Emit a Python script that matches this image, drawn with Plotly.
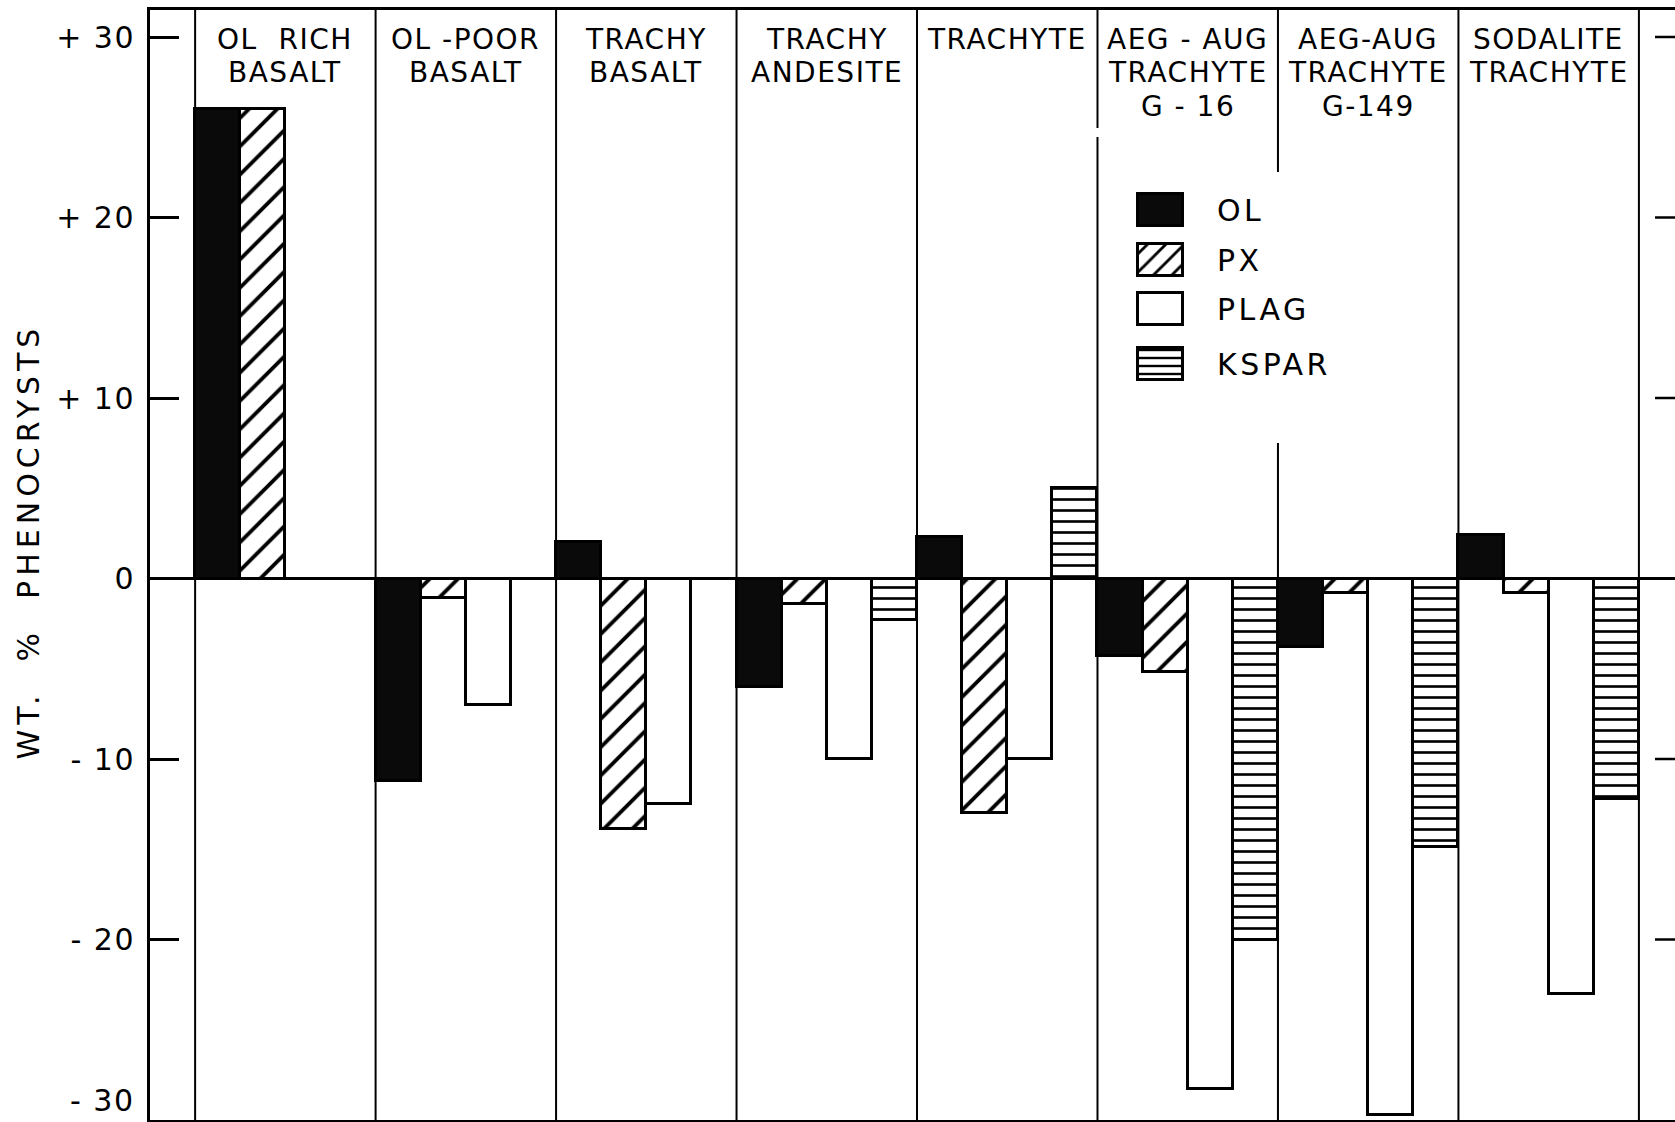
import plotly.graph_objects as go

# Rock types along the x axis and the header text drawn in each column
categories = [
    "OL RICH BASALT", "OL-POOR BASALT", "TRACHY BASALT", "TRACHY ANDESITE",
    "TRACHYTE", "AEG-AUG TRACHYTE G-16", "AEG-AUG TRACHYTE G-149", "SODALITE TRACHYTE",
]
header_lines = [
    ["OL  RICH", "BASALT"],
    ["OL -POOR", "BASALT"],
    ["TRACHY", "BASALT"],
    ["TRACHY", "ANDESITE"],
    ["TRACHYTE"],
    ["AEG - AUG", "TRACHYTE", "G - 16"],
    ["AEG-AUG", "TRACHYTE", "G-149"],
    ["SODALITE", "TRACHYTE"],
]

# Wt. % phenocrysts added (+) or removed (-) for each mineral
ol = [26.0, -11.2, 2.0, -6.0, 2.3, -4.3, -3.8, 2.4]
px = [26.0, -1.1, -13.9, -1.4, -13.0, -5.2, -0.8, -0.8]
plag = [None, -7.0, -12.5, -10.0, -10.0, -28.3, -29.7, -23.0]
kspar = [None, None, None, -2.3, 5.0, -20.0, -14.9, -12.2]

tick_vals = [-30, -20, -10, 0, 10, 20, 30]
tick_text = ["", "- 20", "- 10", "0", "+ 10", "+ 20", "+ 30"]

legend_names = ["OL", "PX", "PLAG", "KSPAR"]

FONT = "DejaVu Sans"
INK = "black"
OUTLINE = dict(color=INK, width=3)


def spaced(text, px_gap):
    return f'<span style="letter-spacing:{px_gap}px">{text}</span>'


fig = go.Figure()

fig.add_trace(go.Bar(name="OL", x=categories, y=ol,
                     marker=dict(color="#0a0a0a", line=OUTLINE)))
fig.add_trace(go.Bar(name="PX", x=categories, y=px,
                     marker=dict(color="white", line=OUTLINE,
                                 pattern=dict(shape="/", size=20, solidity=0.19,
                                              fgcolor=INK, bgcolor="white", fgopacity=1))))
fig.add_trace(go.Bar(name="PLAG", x=categories, y=plag,
                     marker=dict(color="white", line=OUTLINE)))
fig.add_trace(go.Bar(name="KSPAR", x=categories, y=kspar,
                     marker=dict(color="white", line=OUTLINE,
                                 pattern=dict(shape="-", size=11, solidity=0.24,
                                              fgcolor=INK, bgcolor="white", fgopacity=1))))

# Key swatches, drawn on a pixel-based overlay axis pair
sw_x, sw_w, sw_h = 1160.5, 45.5, 32
sw_tops = [194, 244, 293, 348]
sw_styles = [
    dict(color="#0a0a0a"),
    dict(color="white", pattern=dict(shape="/", size=13, solidity=0.22, fgcolor=INK,
                                     bgcolor="white", fgopacity=1)),
    dict(color="white"),
    dict(color="white", pattern=dict(shape="-", size=8, solidity=0.3, fgcolor=INK,
                                     bgcolor="white", fgopacity=1)),
]
for top, style in zip(sw_tops, sw_styles):
    fig.add_trace(go.Bar(x=[sw_x], y=[sw_h], base=[top], width=[sw_w], offset=-sw_w / 2,
                         xaxis="x2", yaxis="y2", showlegend=False, hoverinfo="skip",
                         marker=dict(line=OUTLINE, **style)))

shapes = []
# Column dividers (broken where the key sits)
divider_runs = {
    5: [(10, 128), (137, 1120)],
    6: [(10, 172), (443, 1120)],
}
for k in range(9):
    xpos = k - 0.5
    runs = divider_runs.get(k, [(10, 1120)])
    for y0, y1 in runs:
        shapes.append(dict(type="line", xref="x", yref="paper", x0=xpos, x1=xpos,
                           y0=(1120 - y1) / 1110, y1=(1120 - y0) / 1110,
                           line=dict(color=INK, width=2), layer="below"))
# Tick marks on the right-hand frame
for v in tick_vals:
    if v in (0, -30):
        continue
    shapes.append(dict(type="line", xref="x", yref="y", x0=7.75 - 29 / 180.5, x1=7.9,
                       y0=v, y1=v, line=dict(color=INK, width=2.5)))

annotations = []
for i, lines in enumerate(header_lines):
    for j, line in enumerate(lines):
        ypix = [40, 72.5, 106][j]
        annotations.append(dict(x=i, y=(1120 - ypix) / 1110, xref="x", yref="paper",
                                text=spaced(line, 1.5), showarrow=False,
                                xanchor="center", yanchor="middle",
                                font=dict(family=FONT, size=28, color=INK)))

for name, top in zip(legend_names, sw_tops):
    annotations.append(dict(x=1215, y=top + sw_h / 2, xref="x2", yref="y2",
                            text=spaced(name, 3.5), showarrow=False,
                            xanchor="left", yanchor="middle",
                            font=dict(family=FONT, size=30, color=INK)))

annotations.append(dict(x=0, y=-30, xref="paper", yref="y", text=spaced("- 30", 1.5),
                        showarrow=False, xanchor="right", yanchor="bottom", xshift=-13, yshift=0,
                        font=dict(family=FONT, size=30, color=INK)))

annotations.append(dict(x=(27.5 - 150) / 1525, y=(1120 - 542) / 1110, xref="paper", yref="paper",
                        text=spaced("WT.  %  PHENOCRYSTS", 5), textangle=-90, showarrow=False,
                        xanchor="center", yanchor="middle",
                        font=dict(family=FONT, size=30, color=INK)))

fig.update_layout(
    width=1675, height=1122,
    margin=dict(l=150, r=0, t=10, b=2, autoexpand=False),
    paper_bgcolor="white", plot_bgcolor="white",
    barmode="group", bargap=0, bargroupgap=0,
    showlegend=False,
    font=dict(family=FONT, size=30, color=INK),
    xaxis=dict(type="category", range=[-0.75, 7.70], showticklabels=False, ticks="",
               showgrid=False, zeroline=False, showline=True, mirror=True,
               linecolor=INK, linewidth=3, fixedrange=True, automargin=False),
    yaxis=dict(range=[-30, 31.5], tickvals=tick_vals,
               ticktext=[spaced(t, 1.5) for t in tick_text],
               ticks="inside", ticklen=29, tickwidth=2.5, tickcolor=INK,
               ticklabelstandoff=6, automargin=False,
               tickfont=dict(family=FONT, size=30, color=INK),
               showgrid=False, zeroline=True, zerolinecolor=INK, zerolinewidth=3,
               showline=True, linecolor=INK, linewidth=3, mirror=False),
    xaxis2=dict(overlaying="x", anchor="y2", range=[150, 1675], visible=False),
    yaxis2=dict(overlaying="y", anchor="x2", range=[1120, 10], visible=False),
    shapes=shapes,
    annotations=annotations,
)

fig.write_html("out.html")
